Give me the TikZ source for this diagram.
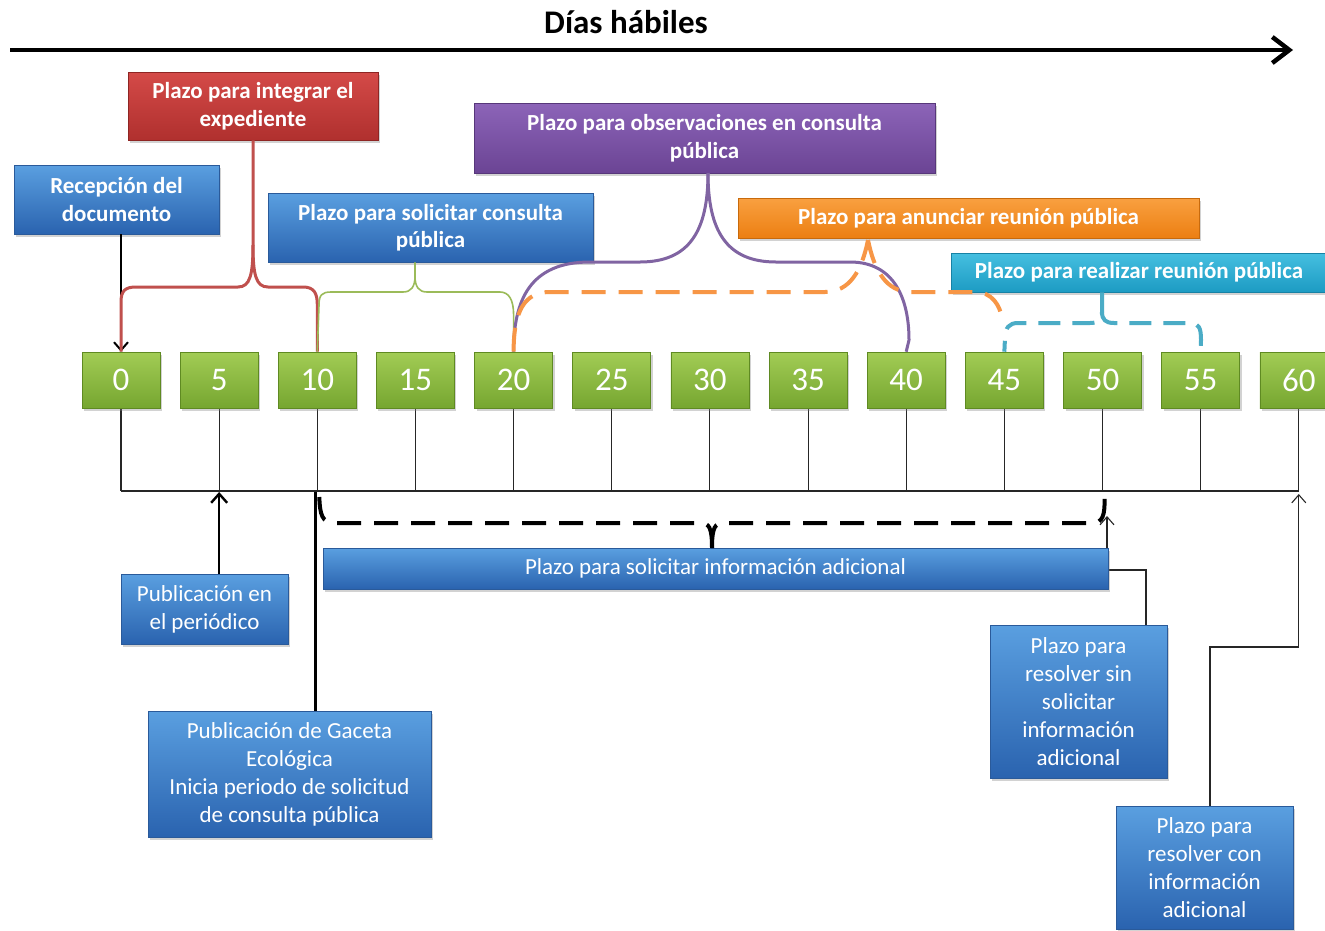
\documentclass[tikz,border=0pt]{standalone}
\usepackage{fontspec}
\setmainfont{Carlito}
\usetikzlibrary{arrows.meta,shadows,calc}
\definecolor{blueT}{HTML}{5A9FE0}\definecolor{blueB}{HTML}{2A63AF}\definecolor{blueD}{HTML}{2A5A9A}
\definecolor{redT}{HTML}{D44A48}\definecolor{redB}{HTML}{B0302E}\definecolor{redD}{HTML}{8E2523}
\definecolor{purT}{HTML}{8C64B8}\definecolor{purB}{HTML}{6B4494}\definecolor{purD}{HTML}{57377A}
\definecolor{oraT}{HTML}{F9A040}\definecolor{oraB}{HTML}{EC7F12}\definecolor{oraD}{HTML}{C86A0C}
\definecolor{cyaT}{HTML}{45BFE0}\definecolor{cyaB}{HTML}{1D9BC3}\definecolor{cyaD}{HTML}{1782A5}
\definecolor{grnT}{HTML}{A2CC55}\definecolor{grnB}{HTML}{76A630}\definecolor{grnD}{HTML}{5F8A22}
\definecolor{redL}{HTML}{C0504D}\definecolor{grnL}{HTML}{9BBB59}\definecolor{purL}{HTML}{8064A2}
\definecolor{oraL}{HTML}{F79646}\definecolor{cyaL}{HTML}{4BACC6}
\tikzset{
  box/.style={rectangle, inner sep=0pt, align=center, text=white, line width=0.6pt,
    drop shadow={opacity=0.35, shadow xshift=2pt, shadow yshift=-2.5pt}},
  bluebox/.style={box, top color=blueT, bottom color=blueB, draw=blueD},
  redbox/.style={box, top color=redT, bottom color=redB, draw=redD},
  purbox/.style={box, top color=purT, bottom color=purB, draw=purD},
  orabox/.style={box, top color=oraT, bottom color=oraB, draw=oraD},
  cyabox/.style={box, top color=cyaT, bottom color=cyaB, draw=cyaD},
  numbox/.style={box, top color=grnT, bottom color=grnB, draw=grnD,
    minimum width=78pt, minimum height=56pt, font=\fontsize{33}{36}\selectfont},
  headfont/.style={font=\fontsize{23}{27.5}\selectfont\bfseries},
  bodyfont/.style={font=\fontsize{23}{28}\selectfont},
  tick/.style={draw=black!85, line width=1.1pt},
  thinconn/.style={draw=black!85, line width=1.1pt},
  thickconn/.style={draw=black, line width=2.4pt},
  bracered/.style={draw=redL, line width=3pt},
  bracegrn/.style={draw=grnL, line width=1.6pt},
  bracepur/.style={draw=purL, line width=3pt},
  braceora/.style={draw=oraL, line width=4pt, dash pattern=on 24pt off 13pt},
  bracecya/.style={draw=cyaL, line width=4pt, dash pattern=on 22pt off 12pt},
  braceblk/.style={draw=black, line width=4pt, dash pattern=on 24pt off 13pt},
  barb/.style={-{Straight Barb[length=8pt,width=14pt]}},
}
\begin{document}
\begin{tikzpicture}[x=1pt,y=-1pt]
\useasboundingbox (0,0) rectangle (1325,930);
\fill[white] (0,0) rectangle (1325,930);

% title and time arrow
\node[font=\fontsize{33}{36}\selectfont\bfseries] (title) at (626,22) {Días hábiles};
\coordinate (arrS) at (10,50);
\coordinate (arrE) at (1293,50);
\draw[line width=4.5pt, -{Straight Barb[length=17pt,width=26pt]}] (arrS) -- (arrE);

% tick coordinates and ticks
\foreach \i in {0,...,12} {
  \coordinate (t\i) at ({121+98.15*\i},491);
}
\foreach \i in {0,...,12} {
  \draw[tick] ($(t\i)+(0,-90)$) -- (t\i);
}
\draw[tick] (t0) -- (t12);

% helper coordinates
\coordinate (rsA) at (1146,570);
\coordinate (rsB) at (1107,570);
\coordinate (rsC) at (1107,516);
\coordinate (rcA) at (1210,647);

% lower boxes
\node[bluebox, bodyfont, minimum width=177pt, minimum height=153pt] (rs) at (1078.5,701.5) {Plazo para\\resolver sin\\solicitar\\información\\adicional};
\node[bluebox, bodyfont, minimum width=177pt, minimum height=123pt] (rc) at (1204.5,867.5) {Plazo para\\resolver con\\información\\adicional};
\node[bluebox, bodyfont, minimum width=167pt, minimum height=70pt] (pub) at (204.5,609) {Publicación en\\el periódico};
\node[bluebox, bodyfont, minimum width=283pt, minimum height=126pt] (gac) at (289.5,774) {Publicación de Gaceta\\Ecológica\\Inicia periodo de solicitud\\de consulta pública};

% connectors of lower boxes
\draw[thinconn, barb] (rs.north -| rsA) -- (rsA) -- (rsB) -- (rsC);
\draw[thinconn, barb] (rc.north -| rcA) -- (rcA) -- (rcA -| t12) -- ($(t12)+(0,3)$);
\draw[thickconn, -{Straight Barb[length=9pt,width=16pt]}] (pub.north -| t1) -- ($(t1)+(0,1)$);
\draw[thickconn] ($(t2)+(-2,1)$) -- ($(gac.north -| t2)+(-2,0)$);

\node[bluebox, bodyfont, minimum width=785pt, minimum height=41pt] (inf) at (715.5,568.5) {Plazo para solicitar información adicional};

% number boxes
\foreach \i/\v in {0/0,1/5,2/10,3/15,4/20,5/25,6/30,7/35,8/40,9/45,10/50,11/55,12/60} {
  \node[numbox] (n\i) at ({121+98.15*\i},380) {\v};
}

% upper boxes
\node[redbox, headfont, minimum width=250pt, minimum height=68pt] (red) at (253,106) {Plazo para integrar el\\expediente};
\node[bluebox, headfont, minimum width=205pt, minimum height=69pt] (rec) at (116.5,199.5) {Recepción del\\documento};
\node[bluebox, headfont, minimum width=325pt, minimum height=69pt] (sol) at (430.5,227.5) {Plazo para solicitar consulta\\pública};
\node[purbox, headfont, minimum width=461pt, minimum height=70pt] (pur) at (704.5,138) {Plazo para observaciones en consulta\\pública};
\node[orabox, headfont, minimum width=461pt, minimum height=40pt] (ora) at (968.5,218) {Plazo para anunciar reunión pública};
\node[cyabox, headfont, minimum width=376pt, minimum height=39pt] (cya) at (1139,272.5) {Plazo para realizar reunión pública};

% brace tips
\coordinate (redTip) at (253,245);
\coordinate (solTip) at (415,276);
\coordinate (purTip) at (708,173);
\coordinate (oraTip) at (868,240);
\coordinate (cyaTip) at (1102,312);
\coordinate (infTip) at (712,548);

% recepcion arrow
\draw[thickconn, line width=2pt, barb] (rec.south -| n0.north) -- (n0.north);

% red brace
\draw[bracered] (n0.north) -- (121,302) .. controls (121,291) and (125,287) .. (136,287) -- (238,287) .. controls (250,287) and (253,275) .. (redTip) -- (red.south -| redTip);
\draw[bracered] (redTip) .. controls (253,275) and (256,287) .. (268,287) -- (303,287) .. controls (314,287) and (317.3,293) .. (317.3,305) -- (n2.north);

% green brace
\draw[bracegrn] (n2.north) -- (319,305) .. controls (319,295) and (322,292) .. (331,292) -- (403,292) .. controls (411,292) and (415,287) .. (solTip) -- (sol.south -| solTip);
\draw[bracegrn] (solTip) .. controls (415,287) and (419,292) .. (427,292) -- (500,292) .. controls (509,292) and (513.6,300) .. (513.6,315) -- (n4.north);

% purple brace
\draw[bracepur] (n4.north) .. controls (513.6,300) and (530,262) .. (590,262) -- (640,262) .. controls (690,262) and (708,230) .. (purTip);
\draw[bracepur] (purTip) .. controls (708,230) and (726,262) .. (776,262) -- (850,262) .. controls (895,262) and (909,300) .. (909,340) -- (n8.north);

% orange dashed brace
\draw[braceora] (n4.north) .. controls (513.6,310) and (525,292) .. (550,292) -- (825,292) .. controls (850,292) and (862,270) .. (oraTip);
\draw[braceora] (oraTip) .. controls (874,270) and (886,292) .. (911,292) -- (975,292) .. controls (992,292) and (1000,305) .. ($(n9.north)+(-2,-32)$);

% cyan dashed brace
\draw[bracecya] (cya.south -| cyaTip) -- (cyaTip) .. controls (1102,320) and (1098,323) .. (1090,323) -- (1018,323) .. controls (1009,323) and (1005,328) .. (1005,338) -- (n9.north);
\draw[bracecya] (cyaTip) .. controls (1102,320) and (1106,323) .. (1114,323) -- (1190,323) .. controls (1199,323) and (1201,328) .. (1201,340) -- (n11.north);

% black dashed brace
\draw[braceblk] ($(t2)+(2,6)$) .. controls (320,515) and (322,523) .. (335,523) -- (700,523) .. controls (709,523) and (712,527) .. (infTip);
\draw[braceblk] (infTip) .. controls (712,527) and (715,523) .. (724,523) -- (1092,523) .. controls (1103,523) and (1105,515) .. ($(t10)+(2,6)$);
\end{tikzpicture}
\end{document}
